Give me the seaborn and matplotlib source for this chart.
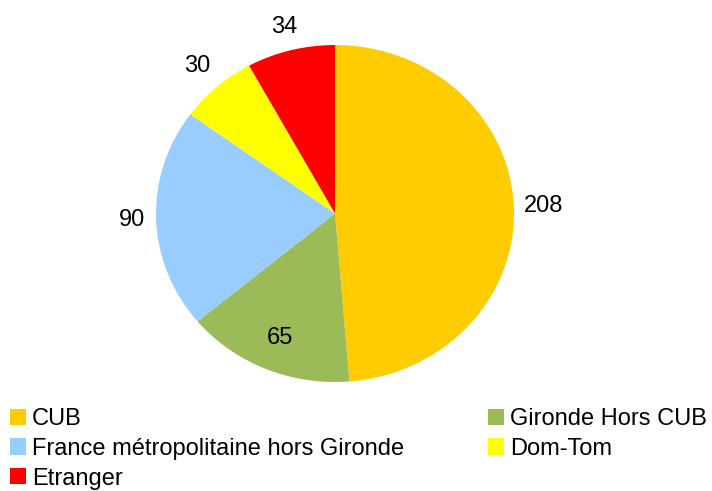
import numpy as np
import matplotlib
matplotlib.use("Agg")
import matplotlib.pyplot as plt
import seaborn as sns
from matplotlib.patches import Patch

categories = ["CUB", "Gironde Hors CUB", "France métropolitaine hors Gironde", "Dom-Tom", "Etranger"]
values = [208, 65, 90, 30, 34]
colors = ["#FFCC00", "#9BBB59", "#99CCFF", "#FFFF00", "#FF0000"]
label_radius = [1.165, 0.8, 1.135, 1.165, 1.145]

sns.set_style("white")
plt.rcParams["font.family"] = ["Liberation Sans", "DejaVu Sans"]
plt.rcParams["text.color"] = "black"

fig = plt.figure(figsize=(7.12, 4.91), dpi=100)
W, H = 712, 491
left, right, top, bottom = 156, 514, 45, 382
ax = fig.add_axes([left / W, (H - bottom) / H, (right - left) / W, (bottom - top) / H])

palette = sns.color_palette(colors)
wedges, _ = ax.pie(values, colors=palette, startangle=90, counterclock=False,
                   wedgeprops=dict(linewidth=0))
ax.set_aspect("auto")
ax.set_xlim(-1, 1)
ax.set_ylim(-1, 1)
ax.axis("off")

for w, v, r in zip(wedges, values, label_radius):
    ang = np.deg2rad((w.theta1 + w.theta2) / 2)
    ax.text(r * np.cos(ang), r * np.sin(ang), str(v), ha="center", va="center",
            fontsize=17, color="black")

handles = [Patch(facecolor=c, edgecolor="none") for c in colors]
leg_kw = dict(frameon=False, fontsize=17, handlelength=0.68, handleheight=0.68,
              handletextpad=0.25, labelspacing=0.33, borderpad=0, borderaxespad=0,
              loc="upper left", labelcolor="black")
l1 = fig.legend([handles[0], handles[2], handles[4]],
                [categories[0], categories[2], categories[4]],
                bbox_to_anchor=(10 / W, (H - 408) / H), **leg_kw)
l2 = fig.legend([handles[1], handles[3]], [categories[1], categories[3]],
                bbox_to_anchor=(488 / W, (H - 408) / H), **leg_kw)

fig.savefig("out.png", dpi=100)
